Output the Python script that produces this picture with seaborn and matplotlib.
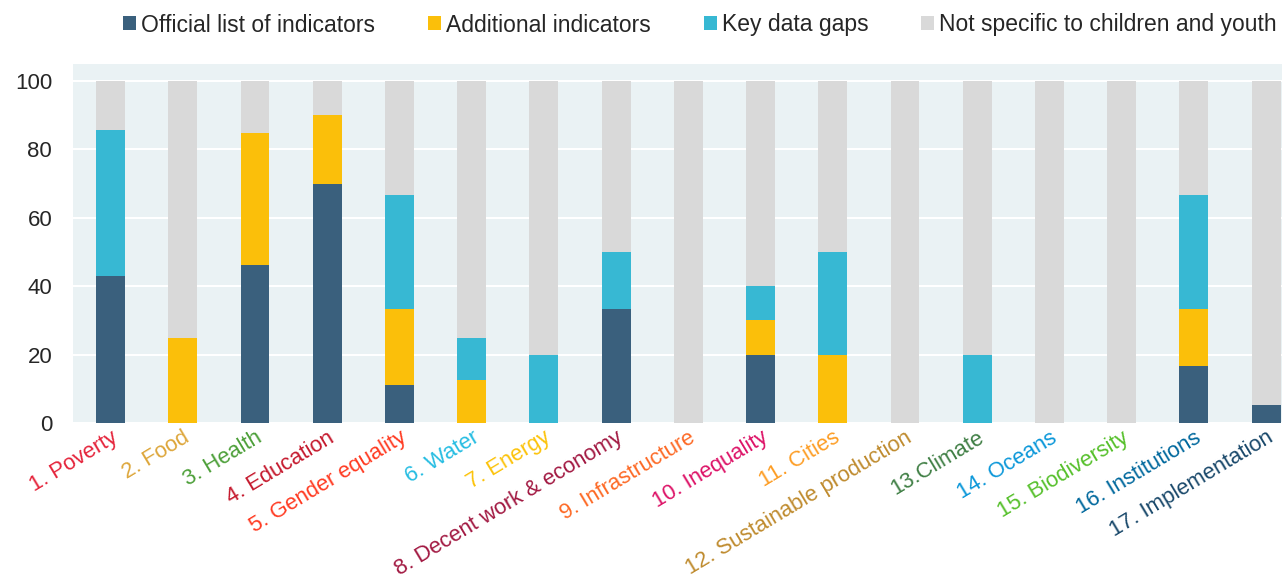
import numpy as np
import pandas as pd
import matplotlib.pyplot as plt
import seaborn as sns

# SDG goals and share of indicators (%)
goals = ["1. Poverty", "2. Food", "3. Health", "4. Education", "5. Gender equality",
         "6. Water", "7. Energy", "8. Decent work & economy", "9. Infrastructure",
         "10. Inequality", "11. Cities", "12. Sustainable production", "13.Climate",
         "14. Oceans", "15. Biodiversity", "16. Institutions", "17. Implementation"]
official = [42.9, 0, 46.2, 70.0, 11.1, 0, 0, 33.3, 0, 20.0, 0, 0, 0, 0, 0, 16.7, 5.3]
additional = [0, 25.0, 38.5, 20.0, 22.2, 12.5, 0, 0, 0, 10.0, 20.0, 0, 0, 0, 0, 16.7, 0]
gaps = [42.9, 0, 0, 0, 33.3, 12.5, 20.0, 16.7, 0, 10.0, 30.0, 0, 20.0, 0, 0, 33.3, 0]
series = ["Official list of indicators", "Additional indicators", "Key data gaps",
          "Not specific to children and youth"]
sdg_colors = ["#E5243B", "#DDA63A", "#4C9F38", "#C5192D", "#FF3A21", "#26BDE2", "#FCC30B",
              "#A21942", "#FD6925", "#DD1367", "#FD9D24", "#BF8B2E", "#3F7E44", "#0A97D9",
              "#56C02B", "#00689D", "#19486A"]
bar_colors = ["#3A607D", "#FBBF0A", "#37B8D3", "#D9D9D9"]

df = pd.DataFrame({"goal": goals, "official": official,
                   "additional": additional, "gaps": gaps})
df["not_specific"] = 100 - df["official"] - df["additional"] - df["gaps"]

# cumulative heights for stacking (drawn from top layer down)
cols = ["official", "additional", "gaps", "not_specific"]
cum = df[cols].cumsum(axis=1)

sns.set_style("white")
plt.rcParams['font.family'] = ['Liberation Sans', 'DejaVu Sans']

fig = plt.figure(figsize=(12.82, 5.81), dpi=100)
ax = fig.add_axes([73 / 1282, 1 - 423 / 581, 1 - 73 / 1282, (423 - 64) / 581])
ax.set_facecolor("#EAF2F4")

for i in range(3, -1, -1):
    sns.barplot(x=df["goal"], y=cum[cols[i]], color=bar_colors[i], width=0.4,
                saturation=1, linewidth=0, ax=ax, label=series[i], zorder=3)

handles, labels = ax.get_legend_handles_labels()
if ax.get_legend() is not None:
    ax.get_legend().remove()

ax.set_ylim(0, 105)
ax.set_xlim(-0.52, 16.22)
ax.set_yticks([0, 20, 40, 60, 80, 100])
ax.yaxis.grid(True, color="white", linewidth=1.5, zorder=0)
ax.set_axisbelow(True)
for s in ax.spines.values():
    s.set_visible(False)
ax.tick_params(axis="both", length=0)
ax.tick_params(axis="y", labelsize=16, pad=15)
ax.set_xlabel("")
ax.set_ylabel("")

ax.set_xticks(range(len(goals)))
ax.set_xticklabels(goals, rotation=31, ha="right", rotation_mode="anchor", fontsize=15.8)
for lbl, c in zip(ax.get_xticklabels(), sdg_colors):
    lbl.set_color(c)
ax.tick_params(axis="x", pad=3)

# legend in original order
order = [labels.index(s) for s in series]
fig.legend([handles[k] for k in order], [labels[k] for k in order],
           loc="center", bbox_to_anchor=(700 / 1282, 1 - 25 / 581), ncol=4,
           frameon=False, fontsize=16.5, handlelength=0.57, handleheight=0.57,
           handletextpad=0.22, columnspacing=2.3, borderaxespad=0)

fig.savefig("out.png", dpi=100)
